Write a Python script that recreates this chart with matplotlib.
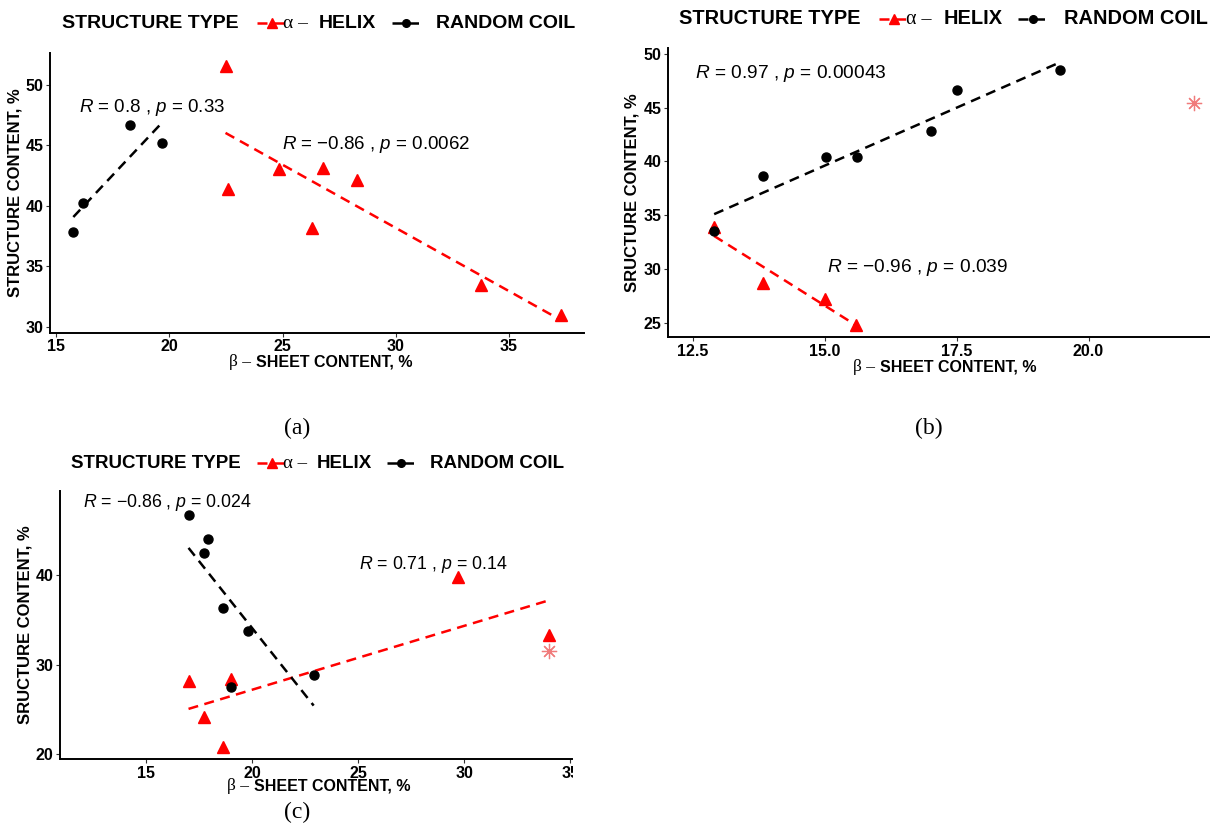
import numpy as np
import matplotlib.pyplot as plt
from matplotlib.lines import Line2D
from matplotlib.patches import Rectangle

plt.rcParams['font.family'] = ['Liberation Sans', 'DejaVu Sans']
plt.rcParams['mathtext.fontset'] = 'custom'
plt.rcParams['mathtext.it'] = 'Liberation Sans:italic'
plt.rcParams['mathtext.rm'] = 'Liberation Sans'

W, H = 1210, 826

# panel (a)
a_coil_x = [15.76, 16.18, 18.28, 19.69]
a_coil_y = [37.87, 40.25, 46.69, 45.22]
a_helix_x = [22.48, 22.60, 24.86, 26.29, 26.79, 28.28, 33.78, 37.28]
a_helix_y = [51.61, 41.39, 43.03, 38.17, 43.11, 42.13, 33.47, 30.98]
a_stats = [r'$R$ = 0.8 , $p$ = 0.33', r'$R$ = −0.86 , $p$ = 0.0062']
a_stats_pos = [(16.0, 48.1), (24.98, 45.08)]

# panel (b)
b_coil_x = [12.91, 13.83, 15.02, 15.61, 17.01, 17.50, 19.45]
b_coil_y = [33.49, 38.66, 40.37, 40.37, 42.87, 46.64, 48.50]
b_helix_x = [12.91, 13.83, 15.00, 15.60]
b_helix_y = [33.93, 28.72, 27.16, 24.83]
b_out_x = [22.0]
b_out_y = [45.48]
b_stats = [r'$R$ = 0.97 , $p$ = 0.00043', r'$R$ = −0.96 , $p$ = 0.039']
b_stats_pos = [(12.54, 48.2), (15.04, 30.16)]

# panel (c)
c_coil_x = [17.00, 17.93, 17.71, 18.62, 19.81, 19.00, 22.90]
c_coil_y = [46.65, 44.04, 42.43, 36.34, 33.72, 27.48, 28.82]
c_helix_x = [17.00, 17.71, 18.62, 19.00, 29.70, 34.00]
c_helix_y = [28.15, 24.19, 20.75, 28.37, 39.81, 33.27]
c_out_x = [34.0]
c_out_y = [31.51]
c_stats = [r'$R$ = −0.86 , $p$ = 0.024', r'$R$ = 0.71 , $p$ = 0.14']
c_stats_pos = [(12.02, 48.15), (25.02, 41.12)]

DASH = (0, (4, 2.6))

fig = plt.figure(figsize=(W / 100, H / 100), dpi=100)
renderer = fig.canvas.get_renderer()


def fx(x):
    return x / W


def fy(y):
    return 1 - y / H


def put_row(x, y, pieces, center=False):
    # pieces: (text, style, gap after in px)
    texts = [fig.text(0, 0, s, va='center', ha='left', **kw) for s, kw, g in pieces]
    widths = [t.get_window_extent(renderer).width + g for t, (s, kw, g) in zip(texts, pieces)]
    if center:
        x -= sum(widths) / 2
    for t, w in zip(texts, widths):
        t.set_position((fx(x), fy(y)))
        x += w


def legend_row(y, x_title, red_key, x_alpha, x_helix, black_key, x_coil, size):
    bold = dict(fontsize=size, fontweight='bold')
    serif = dict(fontsize=size, family='Liberation Serif')
    for x, s, kw in [(x_title, 'STRUCTURE TYPE', bold), (x_alpha, 'α –', serif),
                     (x_helix, 'HELIX', bold), (x_coil, 'RANDOM COIL', bold)]:
        fig.text(fx(x), fy(y), s, va='center', ha='left', **kw)
    for (x0, x1), color, marker, ms in [(red_key, 'red', '^', 7.5), (black_key, 'black', 'o', 5.5)]:
        fig.add_artist(Line2D([fx(x0), fx(x1)], [fy(y), fy(y)], color=color, lw=1.8, ls=DASH))
        fig.add_artist(Line2D([fx((x0 + x1) / 2)], [fy(y)], color=color, marker=marker,
                              ms=ms, ls='none'))


def panel(box, xlim, ylim, xticks, yticks, xticklabels, ylabel,
          coil, helix, out, stats, stats_pos, stat_size):
    left, top, right, bottom = box
    ax = fig.add_axes([fx(left), fy(bottom), (right - left) / W, (bottom - top) / H])
    # helix first so the coil dots sit on top where they touch
    for x, y, color, marker, ms in [(helix[0], helix[1], 'red', '^', 8.5),
                                    (coil[0], coil[1], 'black', 'o', 6.5)]:
        x = np.array(x)
        k, b = np.polyfit(x, y, 1)
        xs = np.array([x.min(), x.max()])
        ax.plot(xs, k * xs + b, color=color, lw=1.8, ls=DASH, zorder=2)
        ax.plot(x, y, ls='none', marker=marker, color=color, ms=ms, zorder=3)
    if out is not None:
        ax.plot(out[0], out[1], ls='none', marker=(8, 2, 0), ms=11, mew=0.9,
                color='#f07b7b', zorder=3)
    for s, (x, y) in zip(stats, stats_pos):
        ax.text(x, y, s, fontsize=stat_size, va='center', ha='left')
    ax.set_xlim(xlim)
    ax.set_ylim(ylim)
    ax.set_xticks(xticks)
    ax.set_xticklabels(xticklabels)
    ax.set_yticks(yticks)
    ax.spines[['top', 'right']].set_visible(False)
    ax.spines[['left', 'bottom']].set_linewidth(1.4)
    ax.tick_params(length=3, width=0.8, color='#333333', pad=1.5,
                   labelsize=11.5, labelcolor='black')
    for lbl in ax.get_xticklabels() + ax.get_yticklabels():
        lbl.set_fontweight('bold')
    ax.set_ylabel(ylabel, fontsize=12, fontweight='bold', labelpad=2.5)
    ax.set_facecolor('none')
    return ax


def xlabel_row(cx, y):
    put_row(cx, y, [('β –', dict(fontsize=12.5, family='Liberation Serif'), 5),
                    ('SHEET CONTENT, %', dict(fontsize=11.5, fontweight='bold'), 0)],
            center=True)


# (a)
panel((50, 52.7, 584, 333), (14.73, 38.31), (29.5, 52.67),
      [15, 20, 25, 30, 35], [30, 35, 40, 45, 50], ['15', '20', '25', '30', '35'],
      'STRUCTURE CONTENT, %', (a_coil_x, a_coil_y), (a_helix_x, a_helix_y), None,
      a_stats, a_stats_pos, 13.5)
legend_row(23, 61.5, (257, 286), 283, 319, (391.5, 421), 436, 14)
xlabel_row(321, 362)
fig.text(fx(297), fy(428), '(a)', fontsize=17, family='Liberation Serif', ha='center', va='center')

# (b)
panel((667.7, 48.3, 1210, 337.3), (12.03, 22.3), (23.64, 50.53),
      [12.5, 15.0, 17.5, 20.0], [25, 30, 35, 40, 45, 50], ['12.5', '15.0', '17.5', '20.0'],
      'SRUCTURE CONTENT, %', (b_coil_x, b_coil_y), (b_helix_x, b_helix_y), (b_out_x, b_out_y),
      b_stats, b_stats_pos, 13.8)
legend_row(19, 679, (879, 908), 906, 944, (1018, 1048), 1064, 14.4)
xlabel_row(945, 367)
fig.text(fx(929), fy(428), '(b)', fontsize=17, family='Liberation Serif', ha='center', va='center')

# (c)
panel((60, 490.7, 572, 759.3), (10.94, 35.08), (19.41, 49.42),
      [15, 20, 25, 30, 35], [20, 30, 40], ['15', '20', '25', '30', '35'],
      'SRUCTURE CONTENT, %', (c_coil_x, c_coil_y), (c_helix_x, c_helix_y), (c_out_x, c_out_y),
      c_stats, c_stats_pos, 12.8)
legend_row(463, 71, (257, 286), 283, 317, (386.5, 415), 430, 13.5)
xlabel_row(319, 786)
fig.text(fx(297), fy(812), '(c)', fontsize=17, family='Liberation Serif', ha='center', va='center')

# the source image is cut off right of panel (c)
fig.add_artist(Rectangle((fx(572.5), fy(800)), 40 / W, 40 / H, transform=fig.transFigure,
                         facecolor='white', edgecolor='none', zorder=5))

fig.savefig('out.png', dpi=100)
